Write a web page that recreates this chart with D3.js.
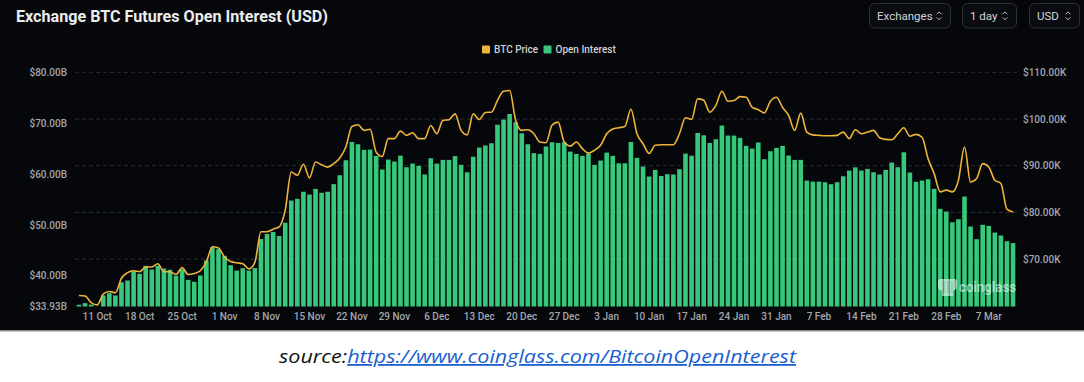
<!DOCTYPE html>
<html><head><meta charset="utf-8">
<script src="https://cdn.jsdelivr.net/npm/d3@7"></script>
<style>
html,body{margin:0;padding:0;background:#fff;}
svg{display:block;}
</style></head>
<body><svg id="c" width="1084" height="382"></svg>
<script>
// ---------- DATA ----------
const startDate = new Date(2024, 9, 8);
const endDate = new Date(2025, 2, 12);
const dates = d3.timeDay.range(startDate, endDate); // daily categories 8 Oct 2024 .. 11 Mar 2025

// Open Interest (USD billions), one bar per day
const openInterest = [
 34.27,34.58,34.3,33.93,36.1,36.55,36.1,38.7,39.04,40.87,
 40.36,41.93,41.2,41.93,41.4,41.15,39.97,41.27,39.18,38.79,
 40.03,42.98,45.6,45.2,43.9,42.05,41.0,41.46,41.0,41.5,
 47.2,48.2,48.6,47.8,50.4,54.77,55.1,56.5,55.95,57.07,
 56.3,56.5,58.0,59.75,62.7,66.3,65.85,64.74,64.8,63.56,
 60.87,62.83,62.44,63.6,61.33,62.05,61.6,59.9,63.1,62.05,
 62.77,62.77,63.5,61.8,60.34,63.4,65.2,65.6,66.04,69.7,
 70.7,71.8,70.17,68.0,65.85,64.1,63.95,65.4,66.24,66.1,
 66.24,64.4,63.95,63.56,64.0,61.8,62.64,64.2,63.56,62.1,
 62.1,66.3,63.17,61.46,59.5,60.8,59.6,59.95,59.9,60.93,
 64.0,63.6,68.08,67.6,66.1,66.83,69.52,67.55,67.55,67.1,
 65.53,65.0,66.18,62.9,64.47,65.13,65.53,63.62,62.77,62.77,
 58.7,58.5,58.5,58.37,57.98,58.37,59.55,60.67,61.3,60.67,
 61.0,60.34,59.9,60.8,62.24,61.33,64.27,60.28,58.45,58.7,
 58.96,57.07,53.14,52.6,50.5,51.1,55.56,49.66,47.17,50.0,
 49.8,48.48,47.9,46.77,46.4
];

// BTC Price (USD thousands), one point per day
const btcPrice = [
 62.2,62.1,60.7,60.2,62.5,63.05,62.8,65.9,67.1,67.5,
 67.3,68.3,68.3,69.0,67.3,67.3,66.7,68.2,66.7,66.9,
 67.5,69.4,72.65,72.4,70.4,69.5,69.2,69.0,67.9,69.3,
 75.85,75.85,76.4,76.9,80.5,88.66,87.95,90.3,87.4,90.8,
 90.2,89.7,90.45,91.65,94.0,98.4,98.77,97.56,97.8,92.9,
 92.0,95.8,95.8,97.4,96.5,97.06,95.8,95.8,98.6,96.85,
 99.7,99.84,101.1,97.56,96.6,101.1,99.9,101.4,101.46,104.0,
 105.95,106.1,99.7,97.56,97.7,96.85,95.06,94.9,98.7,99.33,
 95.06,94.2,95.06,93.65,92.7,93.3,94.36,96.85,97.84,98.13,
 98.4,102.1,96.85,94.7,92.6,94.36,94.5,94.5,94.5,96.85,
 100.27,99.9,104.3,104.0,101.46,102.9,105.95,103.8,103.96,104.8,
 104.66,102.5,102.0,101.3,103.8,104.66,102.5,100.76,97.56,101.25,
 97.2,96.6,96.5,96.4,96.4,96.5,97.2,95.8,97.7,96.85,
 97.2,97.56,96.0,95.64,95.57,96.85,98.13,96.3,96.7,96.1,
 91.5,88.3,84.4,84.76,84.4,86.9,94.0,86.5,87.25,90.45,
 89.7,86.9,86.2,80.7,80.1
];

const leftTicks = [80, 70, 60, 50, 40, 33.93];
const leftTickLabels = ["$80.00B","$70.00B","$60.00B","$50.00B","$40.00B","$33.93B"];
const rightTicks = [110, 100, 90, 80, 70];
const rightTickLabels = ["$110.00K","$100.00K","$90.00K","$80.00K","$70.00K"];
const xTickDates = ["2024-10-11","2024-10-18","2024-10-25","2024-11-01","2024-11-08","2024-11-15","2024-11-22","2024-11-29","2024-12-06","2024-12-13","2024-12-20","2024-12-27","2025-01-03","2025-01-10","2025-01-17","2025-01-24","2025-01-31","2025-02-07","2025-02-14","2025-02-21","2025-02-28","2025-03-07"];
const xTickLabels = ["11 Oct","18 Oct","25 Oct","1 Nov","8 Nov","15 Nov","22 Nov","29 Nov","6 Dec","13 Dec","20 Dec","27 Dec","3 Jan","10 Jan","17 Jan","24 Jan","31 Jan","7 Feb","14 Feb","21 Feb","28 Feb","7 Mar"];
const legendItems = ["BTC Price","Open Interest"];
const controls = ["Exchanges","1 day","USD"];

// ---------- LAYOUT ----------
const W = 1084, H = 382;
const panelH = 330;
const plotTop = 72.3, plotBottom = 306.5;
const plotLeft = 75.97, plotRight = 1016.05;
const FONT = "Roboto, 'Noto Sans', 'DejaVu Sans', sans-serif";
const C = {
  bg: "#05070b", grid: "#2a2e35", label: "#a3a6ab", title: "#ececec",
  bar: "#37c87c", line: "#efb43a"
};

const svg = d3.select("#c");
svg.append("rect").attr("x",0).attr("y",0).attr("width",W).attr("height",H).attr("fill","#ffffff");
svg.append("rect").attr("x",0).attr("y",0).attr("width",W).attr("height",panelH).attr("fill",C.bg);
svg.append("rect").attr("x",0).attr("y",panelH).attr("width",W).attr("height",1.5).attr("fill","#8a8a8a");

// scales
const idx = d3.range(dates.length);
const x = d3.scaleBand().domain(idx).range([plotLeft, plotRight]).paddingInner(0.24).paddingOuter(0.12);
const xc = i => x(i) + x.bandwidth()/2;
const yL = d3.scaleLinear().domain([33.93, 80]).range([plotBottom, plotTop]);
const yR = d3.scaleLinear().domain([59.85, 110]).range([plotBottom, plotTop]);

// title
svg.append("text").attr("x",16).attr("y",22)
  .attr("font-family",FONT).attr("font-weight",700).attr("font-size",16.5)
  .attr("fill",C.title).attr("textLength",312).attr("lengthAdjust","spacingAndGlyphs")
  .text("Exchange BTC Futures Open Interest (USD)");

// control boxes
const boxes = [{x:869,w:81},{x:962,w:54},{x:1029,w:50}];
controls.forEach((t,i)=>{
  const b = boxes[i];
  const g = svg.append("g");
  g.append("rect").attr("x",b.x+0.5).attr("y",3.5).attr("width",b.w).attr("height",24.5).attr("rx",5)
    .attr("fill","#0a0c11").attr("stroke","#2c3038").attr("stroke-width",1);
  g.append("text").attr("x",b.x+8).attr("y",19.5).attr("font-family",FONT).attr("font-size",11.5)
    .attr("fill","#d2d4d8").text(t);
  const cx = b.x + b.w - 11, cy = 15.8;
  g.append("path").attr("d",`M${cx-2.3},${cy-1.6}L${cx},${cy-4}L${cx+2.3},${cy-1.6}M${cx-2.3},${cy+1.6}L${cx},${cy+4}L${cx+2.3},${cy+1.6}`)
    .attr("fill","none").attr("stroke","#b8bbc0").attr("stroke-width",1);
});

// legend
const legColors = [C.line, C.bar];
const legX = [482, 543.5];
legendItems.forEach((t,i)=>{
  svg.append("rect").attr("x",legX[i]).attr("y",45.5).attr("width",8).attr("height",8).attr("rx",1).attr("fill",legColors[i]);
  svg.append("text").attr("x",legX[i]+12).attr("y",53).attr("font-family",FONT).attr("font-size",10)
    .attr("font-weight",500).attr("fill","#cfd1d5").text(t);
});

// grid lines (right axis ticks)
svg.append("g").selectAll("line").data(rightTicks).join("line")
  .attr("x1",75).attr("x2",1017).attr("y1",d=>yR(d)).attr("y2",d=>yR(d))
  .attr("stroke",C.grid).attr("stroke-width",1).attr("stroke-dasharray","4,3");

// bars
svg.append("g").selectAll("rect").data(openInterest).join("rect")
  .attr("x",(d,i)=>x(i)).attr("width",x.bandwidth())
  .attr("y",d=>yL(d)).attr("height",d=>Math.max(0, plotBottom - yL(d)))
  .attr("fill",C.bar);

// price line
const line = d3.line().x((d,i)=>xc(i)).y(d=>yR(d)).curve(d3.curveMonotoneX);
svg.append("path").datum(btcPrice).attr("d",line).attr("fill","none")
  .attr("stroke",C.line).attr("stroke-width",1.6).attr("stroke-linejoin","round");

// left axis
const axL = d3.axisLeft(yL).tickValues(leftTicks).tickSize(0).tickPadding(0)
  .tickFormat((d,i)=>leftTickLabels[i]);
const gL = svg.append("g").attr("transform","translate(67,0)").call(axL);
gL.select(".domain").remove();
gL.selectAll("text").attr("font-family",FONT).attr("font-size",10).attr("font-weight",500).attr("fill",C.label);

// right axis
const axR = d3.axisRight(yR).tickValues(rightTicks).tickSize(0).tickPadding(0)
  .tickFormat((d,i)=>rightTickLabels[i]);
const gR = svg.append("g").attr("transform","translate(1023,0)").call(axR);
gR.select(".domain").remove();
gR.selectAll("text").attr("font-family",FONT).attr("font-size",10).attr("font-weight",500).attr("fill",C.label);

// x axis
const parse = d3.timeParse("%Y-%m-%d");
const tickIdx = xTickDates.map(s => Math.round((parse(s) - startDate)/864e5));
const axX = d3.axisBottom(x).tickValues(tickIdx).tickSize(0).tickPadding(0)
  .tickFormat(d => xTickLabels[tickIdx.indexOf(d)]);
const gX = svg.append("g").attr("transform","translate(0,313)").call(axX);
gX.select(".domain").remove();
gX.selectAll("text").attr("font-family",FONT).attr("font-size",10).attr("font-weight",500).attr("fill",C.label);

// watermark
const wm = svg.append("g").attr("opacity",0.55);
wm.append("path").attr("d","M940,279 h15 q2,0 2,3 v5 q0,2 -2,3 l-2,1 v5 h-11 v-5 l-2,-1 q-2,-1 -2,-3 v-5 q0,-3 2,-3 z")
  .attr("fill","#ffffff");
wm.append("path").attr("d","M944,281 v12 M948,281 v12 M952,281 v12").attr("stroke","#9aa0a6").attr("stroke-width",0.8);
wm.append("text").attr("x",959).attr("y",292).attr("font-family",FONT).attr("font-weight",700)
  .attr("font-size",15).attr("fill","#ffffff").attr("textLength",57).attr("lengthAdjust","spacingAndGlyphs").text("coinglass");

// source line
const src = svg.append("text").attr("x",279).attr("y",363).attr("font-family","'Open Sans', 'Noto Sans', sans-serif")
  .attr("font-style","italic").attr("font-size",18).attr("textLength",517).attr("lengthAdjust","spacingAndGlyphs");
src.append("tspan").attr("fill","#111111").text("source:");
src.append("tspan").attr("fill","#1a5fd0").attr("text-decoration","underline").text("https://www.coinglass.com/BitcoinOpenInterest");
</script>
</body></html>
